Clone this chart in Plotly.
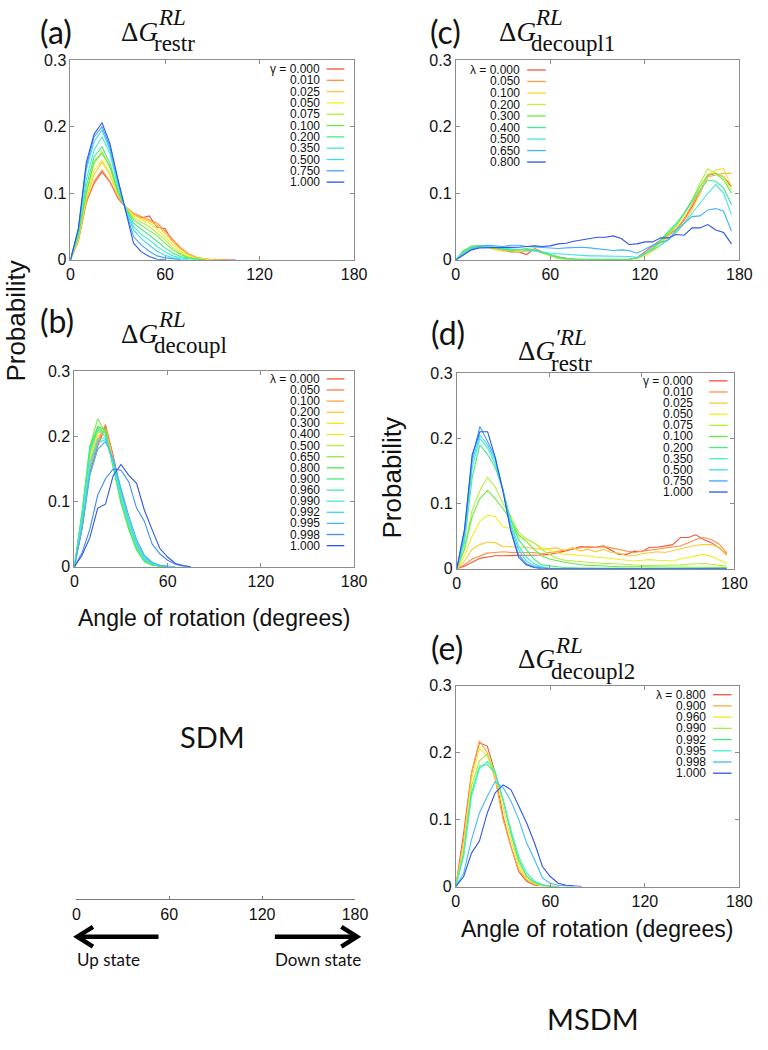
import plotly.graph_objects as go
import plotly.colors as pc

# ---------------- data ----------------
ANGLE = list(range(0, 180, 5))          # bin centres, degrees
X_TICKS = [0, 60, 120, 180]
Y_TICKS = [0, 0.1, 0.2, 0.3]
Y_TICKTEXT = ["0", "0.1", "0.2", "0.3"]

# (a) restraint, gamma windows
A_LABELS = ["0.000", "0.010", "0.025", "0.050", "0.075", "0.100", "0.200", "0.350", "0.500", "0.750", "1.000"]
A_PROB = [
    [0, 0.030, 0.087, 0.115, 0.132, 0.117, 0.093, 0.079, 0.068, 0.063, 0.066, 0.049, 0.047, 0.027, 0.017, 0.008, 0.003, 0.001, 0, 0, 0, 0],
    [0, 0.028, 0.085, 0.118, 0.135, 0.118, 0.095, 0.080, 0.070, 0.065, 0.060, 0.055, 0.043, 0.030, 0.018, 0.009, 0.004, 0.001, 0, 0, 0],
    [0, 0.030, 0.090, 0.128, 0.147, 0.128, 0.097, 0.080, 0.068, 0.062, 0.058, 0.052, 0.040, 0.027, 0.016, 0.008, 0.003, 0.001, 0, 0],
    [0, 0.032, 0.095, 0.135, 0.150, 0.130, 0.098, 0.079, 0.066, 0.060, 0.055, 0.046, 0.035, 0.022, 0.013, 0.006, 0.002, 0.001, 0],
    [0, 0.035, 0.100, 0.145, 0.163, 0.140, 0.100, 0.078, 0.063, 0.057, 0.050, 0.040, 0.030, 0.018, 0.010, 0.004, 0.002, 0],
    [0, 0.035, 0.100, 0.148, 0.160, 0.140, 0.102, 0.078, 0.060, 0.052, 0.045, 0.036, 0.025, 0.015, 0.008, 0.003, 0.001, 0],
    [0, 0.040, 0.110, 0.155, 0.170, 0.145, 0.105, 0.077, 0.055, 0.046, 0.038, 0.028, 0.018, 0.010, 0.005, 0.002, 0.001, 0],
    [0, 0.042, 0.120, 0.165, 0.185, 0.160, 0.110, 0.077, 0.050, 0.038, 0.030, 0.020, 0.012, 0.006, 0.003, 0.001, 0],
    [0, 0.045, 0.135, 0.178, 0.195, 0.165, 0.115, 0.075, 0.045, 0.032, 0.022, 0.013, 0.007, 0.003, 0.001, 0],
    [0, 0.046, 0.140, 0.185, 0.200, 0.170, 0.120, 0.074, 0.035, 0.022, 0.013, 0.006, 0.003, 0.001, 0],
    [0, 0.047, 0.146, 0.189, 0.206, 0.175, 0.122, 0.072, 0.025, 0.012, 0.005, 0.001, 0],
]

# (b) decoupling, lambda windows
B_LABELS = ["0.000", "0.050", "0.100", "0.200", "0.300", "0.400", "0.500", "0.650",
            "0.800", "0.900", "0.960", "0.990", "0.992", "0.995", "0.998", "1.000"]
B_PROB = [
    [0, 0.060, 0.145, 0.185, 0.215, 0.170, 0.115, 0.070, 0.035, 0.012, 0.005, 0.001, 0],
    [0, 0.060, 0.150, 0.190, 0.218, 0.168, 0.112, 0.068, 0.033, 0.012, 0.004, 0.001, 0],
    [0, 0.065, 0.155, 0.195, 0.212, 0.165, 0.110, 0.066, 0.032, 0.011, 0.004, 0.001, 0],
    [0, 0.070, 0.160, 0.200, 0.210, 0.163, 0.108, 0.065, 0.030, 0.010, 0.004, 0.001, 0],
    [0, 0.072, 0.165, 0.205, 0.210, 0.160, 0.106, 0.063, 0.030, 0.010, 0.003, 0.001, 0],
    [0, 0.075, 0.170, 0.210, 0.208, 0.158, 0.104, 0.062, 0.029, 0.009, 0.003, 0.001, 0],
    [0, 0.080, 0.180, 0.215, 0.205, 0.155, 0.100, 0.060, 0.028, 0.009, 0.003, 0.001, 0],
    [0, 0.085, 0.185, 0.227, 0.205, 0.150, 0.098, 0.058, 0.026, 0.008, 0.003, 0.001, 0],
    [0, 0.085, 0.185, 0.215, 0.210, 0.152, 0.098, 0.058, 0.026, 0.008, 0.003, 0.001, 0],
    [0, 0.082, 0.180, 0.213, 0.205, 0.155, 0.100, 0.060, 0.027, 0.009, 0.003, 0.001, 0],
    [0, 0.080, 0.175, 0.210, 0.200, 0.157, 0.102, 0.062, 0.029, 0.010, 0.004, 0.001, 0],
    [0, 0.070, 0.160, 0.195, 0.198, 0.160, 0.110, 0.068, 0.035, 0.013, 0.005, 0.002, 0],
    [0, 0.065, 0.150, 0.190, 0.195, 0.162, 0.115, 0.072, 0.038, 0.015, 0.006, 0.002, 0],
    [0, 0.060, 0.140, 0.180, 0.192, 0.165, 0.120, 0.078, 0.042, 0.018, 0.007, 0.002, 0.001, 0],
    [0, 0.022, 0.058, 0.110, 0.135, 0.150, 0.148, 0.130, 0.090, 0.070, 0.035, 0.020, 0.010, 0.004, 0.001, 0],
    [0, 0.018, 0.045, 0.090, 0.096, 0.140, 0.157, 0.140, 0.128, 0.087, 0.057, 0.028, 0.015, 0.005, 0.002, 0],
]

# (c) decoupling 1 (MSDM), lambda windows
C_LABELS = ["0.000", "0.050", "0.100", "0.200", "0.300", "0.400", "0.500", "0.650", "0.800"]
C_PROB = [
    [0, 0.010, 0.018, 0.021, 0.020, 0.017, 0.014, 0.012, 0.012, 0.008, 0.017, 0.012, 0.007, 0.004, 0.002, 0.001, 0, 0,
     0, 0, 0, 0, 0.001, 0.003, 0.012, 0.022, 0.030, 0.038, 0.046, 0.060, 0.080, 0.100, 0.127, 0.130, 0.125, 0.110],
    [0, 0.011, 0.019, 0.021, 0.021, 0.018, 0.015, 0.013, 0.013, 0.013, 0.015, 0.011, 0.006, 0.003, 0.001, 0, 0, 0,
     0, 0, 0, 0, 0.001, 0.003, 0.008, 0.016, 0.026, 0.036, 0.046, 0.062, 0.082, 0.104, 0.125, 0.128, 0.130, 0.130],
    [0, 0.012, 0.020, 0.020, 0.019, 0.015, 0.013, 0.014, 0.012, 0.014, 0.016, 0.010, 0.006, 0.003, 0.001, 0, 0, 0,
     0, 0, 0, 0, 0.001, 0.002, 0.006, 0.013, 0.022, 0.033, 0.040, 0.055, 0.075, 0.100, 0.128, 0.135, 0.137, 0.110],
    [0, 0.013, 0.021, 0.021, 0.019, 0.017, 0.015, 0.014, 0.015, 0.016, 0.014, 0.010, 0.006, 0.003, 0.001, 0, 0, 0,
     0, 0, 0, 0, 0.001, 0.003, 0.008, 0.016, 0.026, 0.038, 0.050, 0.068, 0.090, 0.115, 0.137, 0.130, 0.125, 0.105],
    [0, 0.014, 0.020, 0.021, 0.020, 0.018, 0.016, 0.014, 0.015, 0.017, 0.015, 0.011, 0.007, 0.003, 0.002, 0.001, 0, 0,
     0, 0, 0, 0, 0.001, 0.003, 0.009, 0.017, 0.028, 0.040, 0.052, 0.070, 0.090, 0.110, 0.128, 0.130, 0.120, 0.100],
    [0, 0.013, 0.020, 0.021, 0.020, 0.018, 0.016, 0.015, 0.016, 0.016, 0.014, 0.011, 0.007, 0.004, 0.002, 0.001, 0.001, 0.001,
     0, 0, 0, 0, 0.001, 0.003, 0.009, 0.018, 0.030, 0.042, 0.055, 0.070, 0.088, 0.105, 0.120, 0.118, 0.108, 0.083],
    [0, 0.010, 0.018, 0.020, 0.020, 0.019, 0.017, 0.016, 0.016, 0.015, 0.014, 0.012, 0.010, 0.009, 0.008, 0.007, 0.006, 0.006,
     0.006, 0.006, 0.006, 0.006, 0.005, 0.004, 0.009, 0.015, 0.022, 0.030, 0.042, 0.055, 0.070, 0.085, 0.100, 0.113, 0.100, 0.068],
    [0, 0.008, 0.016, 0.020, 0.022, 0.021, 0.020, 0.022, 0.022, 0.020, 0.019, 0.018, 0.017, 0.017, 0.018, 0.019, 0.019, 0.018,
     0.017, 0.016, 0.014, 0.015, 0.014, 0.010, 0.016, 0.022, 0.026, 0.030, 0.045, 0.055, 0.065, 0.066, 0.075, 0.077, 0.073, 0.043],
    [0, 0.007, 0.015, 0.018, 0.018, 0.018, 0.018, 0.019, 0.019, 0.020, 0.021, 0.020, 0.021, 0.024, 0.025, 0.028, 0.030, 0.032,
     0.034, 0.034, 0.036, 0.032, 0.023, 0.024, 0.027, 0.027, 0.033, 0.033, 0.038, 0.037, 0.048, 0.048, 0.053, 0.045, 0.041, 0.024],
]

# (d) restraint (MSDM), gamma windows
D_LABELS = A_LABELS
D_PROB = [
    [0, 0.004, 0.010, 0.016, 0.018, 0.020, 0.020, 0.020, 0.020, 0.020, 0.020, 0.021, 0.022, 0.024, 0.027, 0.030, 0.034, 0.033,
     0.033, 0.035, 0.028, 0.022, 0.022, 0.027, 0.026, 0.033, 0.033, 0.035, 0.037, 0.048, 0.048, 0.052, 0.045, 0.040, 0.032, 0.022],
    [0, 0.006, 0.015, 0.020, 0.024, 0.025, 0.026, 0.025, 0.025, 0.024, 0.025, 0.023, 0.025, 0.026, 0.028, 0.030, 0.032, 0.034,
     0.033, 0.034, 0.032, 0.030, 0.027, 0.025, 0.027, 0.028, 0.030, 0.032, 0.033, 0.035, 0.040, 0.045, 0.048, 0.045, 0.038, 0.024],
    [0, 0.012, 0.030, 0.037, 0.041, 0.040, 0.034, 0.034, 0.033, 0.033, 0.031, 0.030, 0.031, 0.032, 0.028, 0.033, 0.027, 0.030,
     0.026, 0.030, 0.025, 0.024, 0.020, 0.020, 0.023, 0.024, 0.026, 0.025, 0.028, 0.030, 0.033, 0.036, 0.037, 0.037, 0.033, 0.020],
    [0, 0.020, 0.050, 0.073, 0.082, 0.080, 0.064, 0.062, 0.050, 0.045, 0.040, 0.032, 0.028, 0.025, 0.022, 0.022, 0.020, 0.020,
     0.018, 0.017, 0.015, 0.015, 0.014, 0.012, 0.013, 0.014, 0.013, 0.013, 0.012, 0.015, 0.017, 0.020, 0.022, 0.019, 0.014, 0.008],
    [0, 0.030, 0.090, 0.120, 0.140, 0.125, 0.100, 0.080, 0.056, 0.046, 0.040, 0.030, 0.022, 0.016, 0.013, 0.012, 0.010, 0.010,
     0.009, 0.008, 0.008, 0.007, 0.006, 0.006, 0.005, 0.005, 0.005, 0.005, 0.005, 0.006, 0.007, 0.008, 0.008, 0.007, 0.006, 0.004],
    [0, 0.030, 0.080, 0.108, 0.120, 0.107, 0.092, 0.075, 0.052, 0.042, 0.030, 0.020, 0.015, 0.012, 0.010, 0.008, 0.006, 0.005,
     0.005, 0.004, 0.004, 0.003, 0.003, 0.003, 0.003, 0.002, 0.002, 0.002, 0.002, 0.002, 0.002, 0.002, 0.002, 0.002, 0.002, 0.002],
    [0, 0.040, 0.140, 0.190, 0.175, 0.155, 0.120, 0.075, 0.045, 0.030, 0.015, 0.006, 0.004, 0.003, 0.002, 0.001, 0.001, 0.001,
     0.001, 0.001, 0, 0, 0, 0, 0, 0, 0, 0, 0, 0, 0, 0, 0, 0, 0, 0],
    [0, 0.045, 0.155, 0.200, 0.185, 0.160, 0.120, 0.070, 0.035, 0.018, 0.008, 0.003, 0.001, 0, 0, 0, 0, 0,
     0, 0, 0, 0, 0, 0, 0, 0, 0, 0, 0, 0, 0, 0, 0, 0, 0, 0],
    [0, 0.050, 0.165, 0.205, 0.190, 0.165, 0.120, 0.065, 0.030, 0.012, 0.005, 0.002, 0, 0, 0, 0, 0, 0,
     0, 0, 0, 0, 0, 0, 0, 0, 0, 0, 0, 0, 0, 0, 0, 0, 0, 0],
    [0, 0.058, 0.170, 0.218, 0.195, 0.170, 0.120, 0.060, 0.022, 0.008, 0.003, 0.001, 0, 0, 0, 0, 0, 0,
     0, 0, 0, 0, 0, 0, 0, 0, 0, 0, 0, 0, 0, 0, 0, 0, 0, 0],
    [0, 0.060, 0.175, 0.210, 0.210, 0.170, 0.118, 0.058, 0.018, 0.006, 0.002, 0, 0, 0, 0, 0, 0, 0,
     0, 0, 0, 0, 0, 0, 0, 0, 0, 0, 0, 0, 0, 0, 0, 0, 0, 0],
]

# (e) decoupling 2 (MSDM), lambda windows
E_LABELS = ["0.800", "0.900", "0.960", "0.990", "0.992", "0.995", "0.998", "1.000"]
E_PROB = [
    [0, 0.080, 0.170, 0.215, 0.210, 0.170, 0.105, 0.060, 0.022, 0.008, 0.002, 0.001, 0, 0],
    [0, 0.070, 0.170, 0.218, 0.200, 0.160, 0.100, 0.060, 0.025, 0.010, 0.003, 0.001, 0, 0],
    [0, 0.060, 0.160, 0.207, 0.195, 0.165, 0.120, 0.070, 0.030, 0.012, 0.004, 0.001, 0, 0],
    [0, 0.050, 0.150, 0.188, 0.198, 0.170, 0.130, 0.080, 0.035, 0.015, 0.005, 0.002, 0, 0],
    [0, 0.050, 0.140, 0.180, 0.182, 0.170, 0.130, 0.080, 0.040, 0.015, 0.006, 0.002, 0, 0],
    [0, 0.045, 0.135, 0.176, 0.187, 0.172, 0.130, 0.085, 0.045, 0.020, 0.008, 0.003, 0, 0],
    [0, 0.020, 0.070, 0.110, 0.135, 0.157, 0.148, 0.128, 0.100, 0.065, 0.040, 0.013, 0.005, 0.002, 0.001, 0],
    [0, 0.015, 0.050, 0.068, 0.110, 0.140, 0.152, 0.145, 0.120, 0.095, 0.065, 0.030, 0.015, 0.005, 0.002, 0.001, 0],
]

# ---------------- style ----------------
W, H = 768, 1050
RAINBOW = [[0.0, "#f25535"], [0.1, "#ff9048"], [0.2, "#ffc838"], [0.3, "#eef020"],
           [0.42, "#a8f040"], [0.52, "#58e848"], [0.62, "#40e890"], [0.72, "#40f0d8"],
           [0.82, "#40d0f8"], [0.91, "#40a0f8"], [1.0, "#3055ec"]]
SANS = "Liberation Sans, Arial, sans-serif"
CALI = "Lato, Open Sans, sans-serif"
SERIF = "Liberation Serif, DejaVu Serif, serif"
FRAME = "#8c8c8c"
TICKFONT = dict(family=SANS, size=16, color="#111")


def px(x):
    return x / W


def py(y):
    return 1 - y / H


def series_colors(n):
    return pc.sample_colorscale(RAINBOW, [i / (n - 1) for i in range(n)])


fig = go.Figure()
annotations = []
shapes = []

# panel geometry in pixels: (left, right, top, bottom)
PANELS = [
    dict(box=(68, 358, 53, 256), labels=A_LABELS, data=A_PROB, sym="\u03b3",
         leg=(325, 330, 348, 62, 11.5)),
    dict(box=(72, 358, 369, 568), labels=B_LABELS, data=B_PROB, sym="\u03bb",
         leg=(325, 330, 348, 377, 11.3)),
    dict(box=(462, 752, 53, 256), labels=C_LABELS, data=C_PROB, sym="\u03bb",
         leg=(530, 535, 554, 63, 11.7)),
    dict(box=(463, 747, 371, 570), labels=D_LABELS, data=D_PROB, sym="\u03b3",
         leg=(707, 721, 740, 379, 11.3)),
    dict(box=(462, 752, 689, 893), labels=E_LABELS, data=E_PROB, sym="\u03bb",
         leg=(720, 725, 744, 698, 11.4)),
]

layout_axes = {}
for i, p in enumerate(PANELS, start=1):
    sfx = "" if i == 1 else str(i)
    l, r, t, b = p["box"]
    cols = series_colors(len(p["labels"]))
    for lab, vals, col in zip(p["labels"], p["data"], cols):
        fig.add_trace(go.Scatter(x=ANGLE[:len(vals)], y=vals, mode="lines",
                                 line=dict(color=col, width=1.1), name=lab,
                                 xaxis="x" + sfx, yaxis="y" + sfx,
                                 showlegend=False, hoverinfo="skip"))
    layout_axes["xaxis" + sfx] = dict(
        domain=[px(l), px(r)], anchor="y" + sfx, range=[0, 180],
        tickvals=X_TICKS, ticks="inside", ticklen=4, tickcolor=FRAME,
        showline=True, linecolor=FRAME, linewidth=1, mirror="ticks",
        showgrid=False, zeroline=False, tickfont=TICKFONT)
    layout_axes["yaxis" + sfx] = dict(
        domain=[py(b), py(t)], anchor="x" + sfx, range=[0, 0.3],
        tickvals=Y_TICKS, ticktext=Y_TICKTEXT, ticks="inside", ticklen=4, tickcolor=FRAME,
        showline=True, linecolor=FRAME, linewidth=1, mirror="ticks",
        showgrid=False, zeroline=False, tickfont=TICKFONT)
    # legend drawn gnuplot-style: text then line sample on the right
    tx, lx0, lx1, y0, dy = p["leg"]
    for k, (lab, col) in enumerate(zip(p["labels"], cols)):
        yy = y0 + k * dy
        txt = (p["sym"] + " = " + lab) if k == 0 else lab
        annotations.append(dict(x=px(tx), y=py(yy), xref="paper", yref="paper", text=txt,
                                showarrow=False, xanchor="right", yanchor="middle",
                                font=dict(family=SANS, size=12, color="#111")))
        shapes.append(dict(type="line", xref="paper", yref="paper", x0=px(lx0), x1=px(lx1),
                           y0=py(yy), y1=py(yy), line=dict(color=col, width=1.3)))

# SDM reference axis (bottom-left)
fig.add_trace(go.Scatter(x=[None], y=[None], xaxis="x6", yaxis="y6", showlegend=False,
                         hoverinfo="skip"))
layout_axes["xaxis6"] = dict(domain=[px(74), px(359)], anchor="y6", range=[0, 180],
                             tickvals=X_TICKS, ticks="inside", ticklen=3, tickcolor="#777",
                             showline=True, linecolor="#777", linewidth=1.2, showgrid=False,
                             zeroline=False, tickfont=TICKFONT)
layout_axes["yaxis6"] = dict(domain=[py(906), py(896)], anchor="x6", visible=False, range=[0, 1])

# panel letters and titles
LETTERS = [("(a)", 53, 24), ("(b)", 54, 318), ("(c)", 452, 24), ("(d)", 454, 330), ("(e)", 453, 650)]
for s, x, y in LETTERS:
    annotations.append(dict(x=px(x), y=py(y), xref="paper", yref="paper", text=s, showarrow=False,
                            xanchor="center", yanchor="middle",
                            font=dict(family=CALI, size=32, color="#111")))

TITLES = [  # (left x of Delta, cap-centre y, superscript, subscript)
    (118, 24, "RL", "restr"),
    (118, 331, "RL", "decoupl"),
    (504, 24, "RL", "decoupl1"),
    (524, 349, "\u2032RL", "restr"),
    (524, 662, "RL", "decoupl2"),
]
for x, y, sup, sub in TITLES:
    annotations.append(dict(x=px(x), y=py(y), xref="paper", yref="paper", text="\u0394<i>G</i>",
                            showarrow=False, xanchor="left", yanchor="middle",
                            font=dict(family=SERIF, size=27, color="#111")))
    annotations.append(dict(x=px(x + 37), y=py(y - 14), xref="paper", yref="paper",
                            text="<i>" + sup + "</i>", showarrow=False, xanchor="left",
                            yanchor="middle", font=dict(family=SERIF, size=23, color="#111")))
    annotations.append(dict(x=px(x + 33), y=py(y + 12), xref="paper", yref="paper", text=sub,
                            showarrow=False, xanchor="left", yanchor="middle",
                            font=dict(family=SERIF, size=23, color="#111")))

# axis labels and captions
TEXTS = [
    ("Probability", 12, 318, 26, SANS, -90),
    ("Probability", 397, 478, 26, SANS, -90),
    ("Angle of rotation (degrees)", 215, 620, 23, SANS, 0),
    ("Angle of rotation (degrees)", 606, 936, 23, SANS, 0),
    ("SDM", 213, 740, 29, CALI, 0),
    ("MSDM", 602, 1027, 29, CALI, 0),
]
for s, x, y, size, fam, ang in TEXTS:
    annotations.append(dict(x=px(x), y=py(y), xref="paper", yref="paper", text=s, showarrow=False,
                            xanchor="center", yanchor="middle", textangle=ang,
                            font=dict(family=fam, size=size, color="#111")))
annotations.append(dict(x=px(73), y=py(967), xref="paper", yref="paper", text="Up state",
                        showarrow=False, xanchor="left", yanchor="middle",
                        font=dict(family=CALI, size=17, color="#111")))
annotations.append(dict(x=px(275), y=py(967), xref="paper", yref="paper", text="Down state",
                        showarrow=False, xanchor="left", yanchor="middle",
                        font=dict(family=CALI, size=17, color="#111")))

# state arrows


def arrow(x_from, x_to, y):
    d = 1 if x_to > x_from else -1
    shapes.append(dict(type="line", xref="paper", yref="paper", x0=px(x_from), x1=px(x_to - d * 2),
                       y0=py(y), y1=py(y), line=dict(color="black", width=4.5)))
    path = "M {} {} L {} {} L {} {}".format(px(x_to - d * 16), py(y - 10), px(x_to), py(y),
                                            px(x_to - d * 16), py(y + 10))
    shapes.append(dict(type="path", xref="paper", yref="paper", path=path,
                       line=dict(color="black", width=4.5)))


arrow(158, 75, 944)
arrow(277, 361, 944)

fig.update_layout(width=W, height=H, margin=dict(l=0, r=0, t=0, b=0), autosize=False,
                  paper_bgcolor="white", plot_bgcolor="white",
                  annotations=annotations, shapes=shapes, **layout_axes)

fig.write_html("out.html", config={"displayModeBar": False},
               post_script="document.body.style.margin='0';")
